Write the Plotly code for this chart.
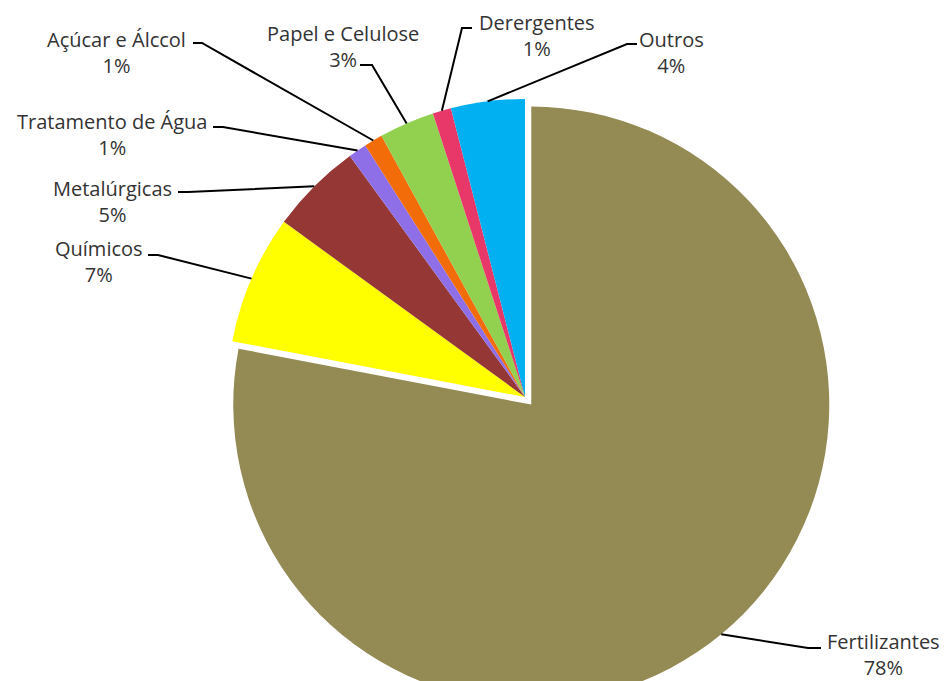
import math
import plotly.graph_objects as go

# ---- data ----
labels = ["Fertilizantes", "Químicos", "Metalúrgicas", "Tratamento de Água",
          "Açúcar e Álccol", "Papel e Celulose", "Derergentes", "Outros"]
values = [78, 7, 5, 1, 1, 3, 1, 4]
colors = ["#948A54", "#FFFF00", "#953735", "#8E6FE8",
          "#F36C0A", "#92D050", "#E8386A", "#00B0F0"]
pulls = [0.033, 0, 0, 0, 0, 0, 0, 0]

# ---- layout geometry (pixels) ----
W, H = 946, 720
CX, CY, R = 525, 397, 298
maxpull = max(pulls)
box = 2 * R * (1 + maxpull)

def px(x):
    return x / W

def py(y):
    return 1 - y / H

dom_x = [px(CX - box / 2), px(CX + box / 2)]
dom_y = [py(CY + box / 2), py(CY - box / 2)]

fig = go.Figure(go.Pie(
    labels=labels, values=values, sort=False, direction="clockwise", rotation=0,
    marker=dict(colors=colors, line=dict(width=0)),
    pull=pulls, textinfo="none", hoverinfo="label+percent",
    domain=dict(x=dom_x, y=dom_y), showlegend=False,
))

# label: (text centre x, first-line centre y, leader start x, leader start y, elbow dx)
label_pos = {
    "Fertilizantes": (883, 641, 821, 648, -13),
    "Químicos": (99, 248, 148, 255, 10),
    "Metalúrgicas": (112, 188, 178, 192, 10),
    "Tratamento de Água": (112, 121, 213, 127, 10),
    "Açúcar e Álccol": (116, 40, 193, 43, 9),
    "Papel e Celulose": (343, 34, 360, 65, 12),
    "Derergentes": (537, 22, 472, 28, -10),
    "Outros": (671, 40, 637, 44, -10),
}
LINE_GAP = 26

total = sum(values)
cum = 0
shapes = []
annotations = []
for lab, val, pl in zip(labels, values, pulls):
    mid = (cum + val / 2) / total * 2 * math.pi
    cum += val
    ox = pl * R * math.sin(mid)
    oy = -pl * R * math.cos(mid)
    ex = CX + ox + R * math.sin(mid)
    ey = CY + oy - R * math.cos(mid)
    tx, ty, lx, ly, dx = label_pos[lab]
    pct = round(val / total * 100)
    annotations.append(dict(
        x=px(tx), y=py(ty + LINE_GAP / 2), xref="paper", yref="paper",
        xanchor="center", yanchor="middle", showarrow=False,
        text=f"{lab}<br>{pct}%", align="center",
        font=dict(family="Open Sans", size=20, color="#333333"),
    ))
    path = f"M {px(lx)} {py(ly)} L {px(lx + dx)} {py(ly)} L {px(ex)} {py(ey)}"
    shapes.append(dict(type="path", xref="paper", yref="paper", path=path,
                       line=dict(color="black", width=2)))

fig.update_layout(
    width=W, height=H, margin=dict(l=0, r=0, t=0, b=0),
    paper_bgcolor="white", plot_bgcolor="white",
    shapes=shapes, annotations=annotations,
)

fig.write_html("out.html", config={"displayModeBar": False}, post_script=(
    "document.body.style.margin='0';"
    "document.body.style.overflow='hidden';"
    "document.documentElement.style.overflow='hidden';"
))
